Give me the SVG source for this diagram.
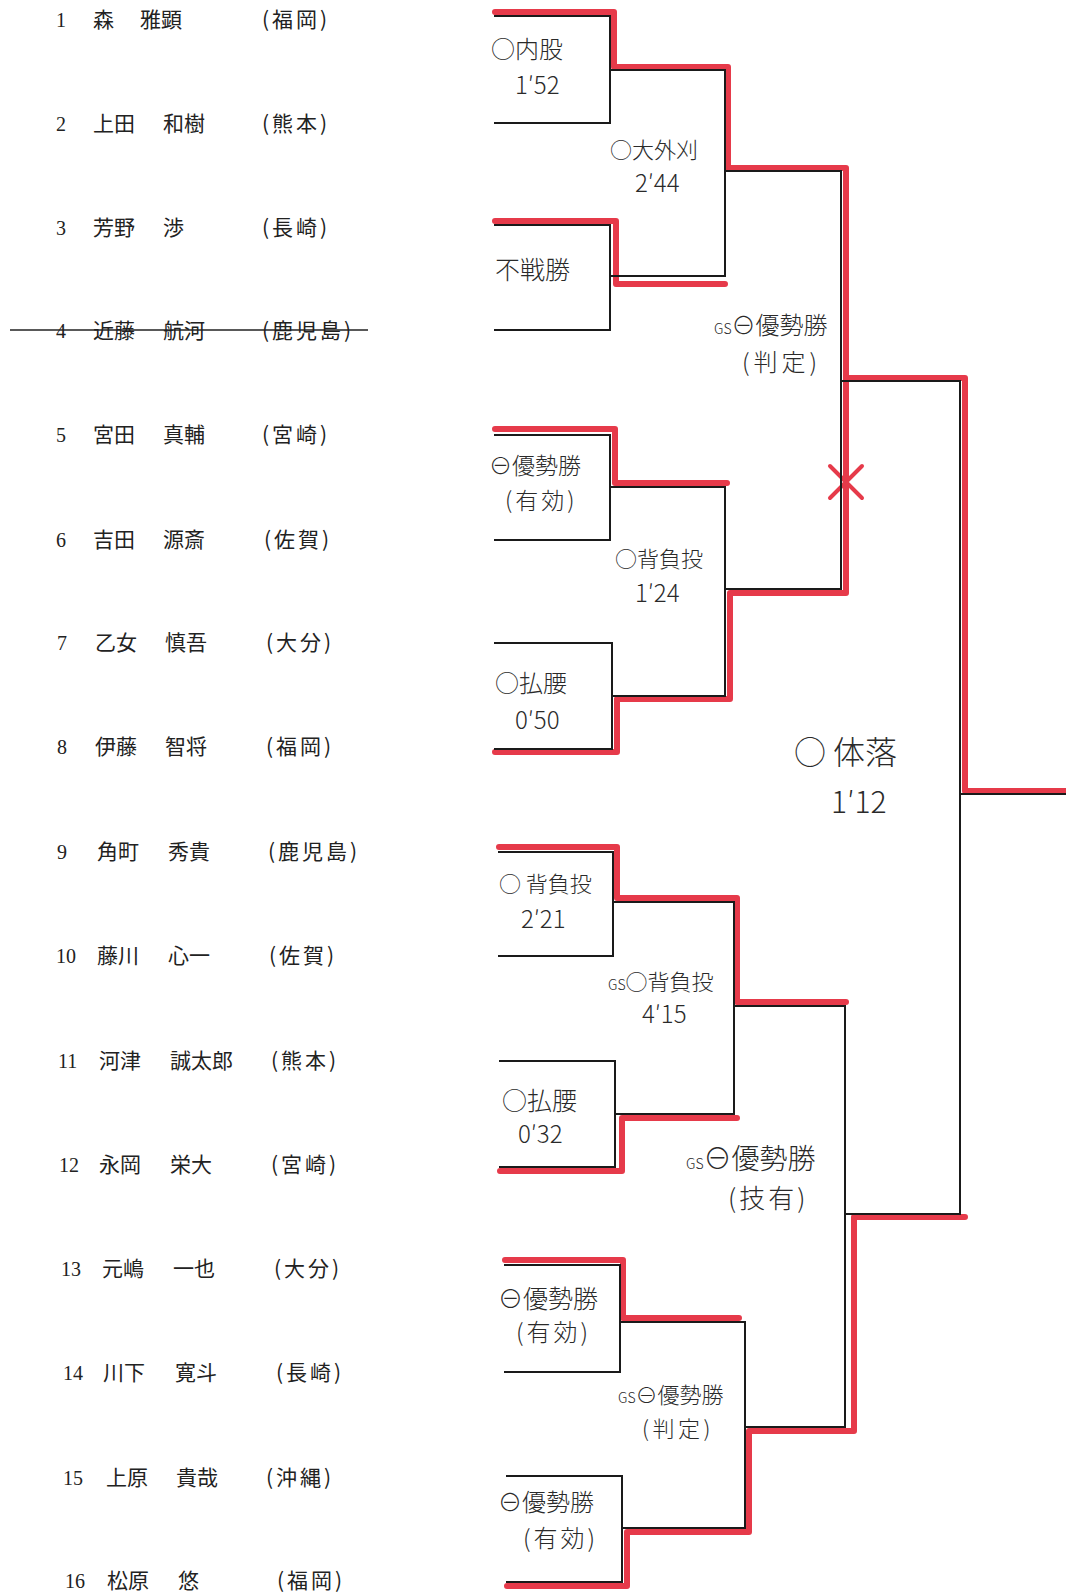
<svg xmlns="http://www.w3.org/2000/svg" width="1066" height="1593" viewBox="0 0 1066 1593">
<style>
.bg{fill:#ffffff}
.blk{fill:none;stroke:#1a1a1a;stroke-width:2;stroke-linecap:square}
.red{fill:none;stroke:#e63a4a;stroke-width:6;stroke-linejoin:round;stroke-linecap:round}
.xm{fill:none;stroke:#e63a4a;stroke-width:4;stroke-linecap:round}
.num{font-family:"Liberation Serif","Noto Sans CJK JP",serif;font-size:20px;fill:#222}
.nm{font-family:"Noto Sans CJK JP","Noto Sans CJK SC",sans-serif;font-size:21px;fill:#222}
.pf{font-family:"Noto Sans CJK JP","Noto Sans CJK SC",sans-serif;font-size:21px;fill:#222;letter-spacing:3px}
.hw{font-family:"Noto Sans CJK JP","Noto Sans CJK SC",sans-serif;font-weight:300;fill:#2a2a2a}
.par{letter-spacing:3px}
.gs{font-size:14px}
.strike{stroke:#222;stroke-width:1.5}
</style>
<rect class="bg" x="0" y="0" width="1066" height="1593"/>

<g id="connectors">
  <path class="red" d="M495,12 H614 V67 H728 V168 H846 V378 H965 V791 H1066"/>
  <path class="red" d="M846,378 V593 H730 V699 H617 V752 H495"/>
  <path class="red" d="M495,221 H616 V284 H725"/>
  <path class="red" d="M495,429 H615 V483 H727"/>
  <path class="red" d="M499,847 H617 V898 H737 V1002 H846"/>
  <path class="red" d="M500,1171 H622 V1118 H737"/>
  <path class="red" d="M505,1260 H623 V1318 H739"/>
  <path class="red" d="M507,1586 H627 V1532 H749 V1431 H854 V1217 H965"/>
  <path class="xm" d="M830,466 L862,498 M862,466 L830,498"/>
  <path class="blk" d="M495,16 H610 V123 H495"/>
  <path class="blk" d="M495,225 H610 V330 H495"/>
  <path class="blk" d="M495,435 H610 V540 H495"/>
  <path class="blk" d="M495,643 H612 V749 H495"/>
  <path class="blk" d="M499,852 H613 V956 H499"/>
  <path class="blk" d="M500,1061 H615 V1167 H500"/>
  <path class="blk" d="M505,1265 H620 V1372 H505"/>
  <path class="blk" d="M507,1476 H622 V1582 H507"/>
  <path class="blk" d="M610,70 H725 V276 H610"/>
  <path class="blk" d="M610,487 H725 V696 H612"/>
  <path class="blk" d="M613,902 H734 V1114 H615"/>
  <path class="blk" d="M620,1322 H745 V1528 H622"/>
  <path class="blk" d="M725,171 H841 V589 H725"/>
  <path class="blk" d="M734,1006 H845 V1427 H745"/>
  <path class="blk" d="M841,381 H960 V1214 H845"/>
  <path class="blk" d="M960,794 H1066"/>
</g>

<g id="p1"><text class="num" x="56" y="27">1</text><text class="nm" x="93" y="27">森</text><text class="nm" x="140" y="27">雅顕</text><text class="pf" x="262" y="27">(福岡)</text></g>
<g id="p2"><text class="num" x="56" y="131">2</text><text class="nm" x="93" y="131">上田</text><text class="nm" x="163" y="131">和樹</text><text class="pf" x="262" y="131">(熊本)</text></g>
<g id="p3"><text class="num" x="56" y="235">3</text><text class="nm" x="93" y="235">芳野</text><text class="nm" x="163" y="235">渉</text><text class="pf" x="262" y="235">(長崎)</text></g>
<g id="p4"><text class="num" x="56" y="338">4</text><text class="nm" x="93" y="338">近藤</text><text class="nm" x="163" y="338">航河</text><text class="pf" x="262" y="338">(鹿児島)</text><line class="strike" x1="10" y1="330" x2="368" y2="330"/></g>
<g id="p5"><text class="num" x="56" y="442">5</text><text class="nm" x="93" y="442">宮田</text><text class="nm" x="163" y="442">真輔</text><text class="pf" x="262" y="442">(宮崎)</text></g>
<g id="p6"><text class="num" x="56" y="547">6</text><text class="nm" x="93" y="547">吉田</text><text class="nm" x="163" y="547">源斎</text><text class="pf" x="264" y="547">(佐賀)</text></g>
<g id="p7"><text class="num" x="57" y="650">7</text><text class="nm" x="95" y="650">乙女</text><text class="nm" x="165" y="650">慎吾</text><text class="pf" x="266" y="650">(大分)</text></g>
<g id="p8"><text class="num" x="57" y="754">8</text><text class="nm" x="95" y="754">伊藤</text><text class="nm" x="165" y="754">智将</text><text class="pf" x="266" y="754">(福岡)</text></g>
<g id="p9"><text class="num" x="57" y="859">9</text><text class="nm" x="97" y="859">角町</text><text class="nm" x="168" y="859">秀貴</text><text class="pf" x="268" y="859">(鹿児島)</text></g>
<g id="p10"><text class="num" x="56" y="963">10</text><text class="nm" x="97" y="963">藤川</text><text class="nm" x="168" y="963">心一</text><text class="pf" x="269" y="963">(佐賀)</text></g>
<g id="p11"><text class="num" x="58" y="1068">11</text><text class="nm" x="99" y="1068">河津</text><text class="nm" x="170" y="1068">誠太郎</text><text class="pf" x="271" y="1068">(熊本)</text></g>
<g id="p12"><text class="num" x="59" y="1172">12</text><text class="nm" x="99" y="1172">永岡</text><text class="nm" x="170" y="1172">栄大</text><text class="pf" x="271" y="1172">(宮崎)</text></g>
<g id="p13"><text class="num" x="61" y="1276">13</text><text class="nm" x="102" y="1276">元嶋</text><text class="nm" x="173" y="1276">一也</text><text class="pf" x="274" y="1276">(大分)</text></g>
<g id="p14"><text class="num" x="63" y="1380">14</text><text class="nm" x="103" y="1380">川下</text><text class="nm" x="175" y="1380">寛斗</text><text class="pf" x="276" y="1380">(長崎)</text></g>
<g id="p15"><text class="num" x="63" y="1485">15</text><text class="nm" x="106" y="1485">上原</text><text class="nm" x="176" y="1485">貴哉</text><text class="pf" x="266" y="1485">(沖縄)</text></g>
<g id="p16"><text class="num" x="65" y="1588">16</text><text class="nm" x="107" y="1588">松原</text><text class="nm" x="178" y="1588">悠</text><text class="pf" x="277" y="1588">(福岡)</text></g>

<g id="m1"><text class="hw" x="491" y="58" font-size="24">○内股</text><text class="hw" x="515" y="94" font-size="24">1′52</text></g>
<g id="m2"><text class="hw" x="610" y="158" font-size="22">○大外刈</text><text class="hw" x="635" y="192" font-size="24">2′44</text></g>
<g id="m3"><text class="hw" x="495" y="279" font-size="25">不戦勝</text></g>
<g id="m4"><text class="hw" x="714" y="334" font-size="24"><tspan class="gs">GS</tspan>⊖優勢勝</text><text class="hw par" x="742" y="371" font-size="24" style="letter-spacing:4px">(判定)</text></g>
<g id="m5"><text class="hw" x="489" y="474" font-size="23">⊖優勢勝</text><text class="hw par" x="505" y="509" font-size="23">(有効)</text></g>
<g id="m6"><text class="hw" x="615" y="567" font-size="22">○背負投</text><text class="hw" x="635" y="602" font-size="24">1′24</text></g>
<g id="m7"><text class="hw" x="495" y="692" font-size="24">○払腰</text><text class="hw" x="515" y="729" font-size="24">0′50</text></g>
<g id="m8"><text class="hw" x="794" y="764" font-size="32">○ 体落</text><text class="hw" x="831" y="813" font-size="30">1′12</text></g>
<g id="m9"><text class="hw" x="499" y="892" font-size="22">○ 背負投</text><text class="hw" x="521" y="928" font-size="24">2′21</text></g>
<g id="m10"><text class="hw" x="608" y="990" font-size="22"><tspan class="gs">GS</tspan>○背負投</text><text class="hw" x="642" y="1023" font-size="24">4′15</text></g>
<g id="m11"><text class="hw" x="502" y="1110" font-size="25">○払腰</text><text class="hw" x="518" y="1143" font-size="24">0′32</text></g>
<g id="m12"><text class="hw" x="686" y="1169" font-size="28"><tspan class="gs">GS</tspan>⊖優勢勝</text><text class="hw par" x="728" y="1208" font-size="26">(技有)</text></g>
<g id="m13"><text class="hw" x="498" y="1308" font-size="25">⊖優勢勝</text><text class="hw par" x="516" y="1341" font-size="24">(有効)</text></g>
<g id="m14"><text class="hw" x="618" y="1403" font-size="22"><tspan class="gs">GS</tspan>⊖優勢勝</text><text class="hw par" x="642" y="1437" font-size="22" style="letter-spacing:3.5px">(判定)</text></g>
<g id="m15"><text class="hw" x="498" y="1511" font-size="24">⊖優勢勝</text><text class="hw par" x="523" y="1547" font-size="24">(有効)</text></g>
</svg>
